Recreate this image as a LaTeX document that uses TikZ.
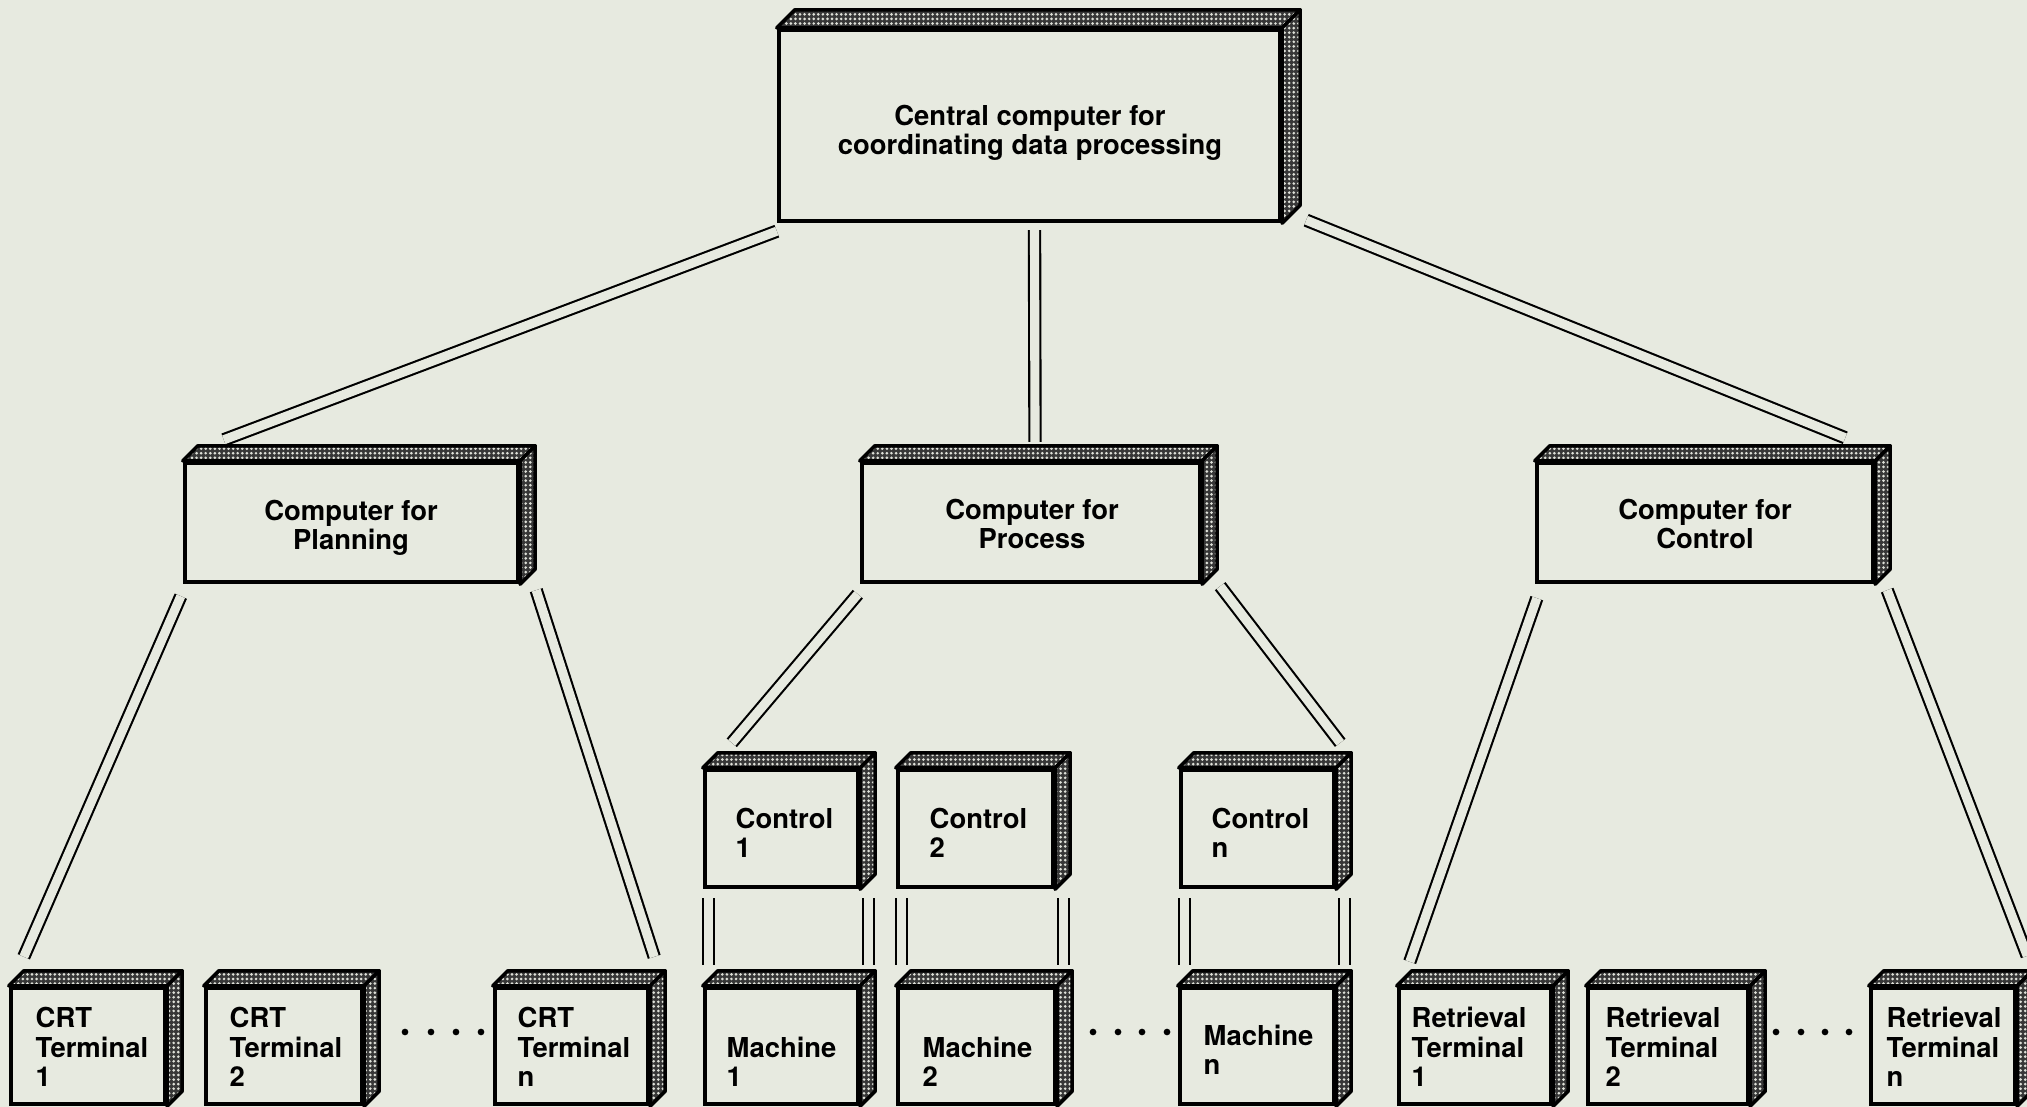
\documentclass[tikz,border=0pt]{standalone}
\usepackage{fontspec}
\setmainfont{TeX Gyre Heros}
\usetikzlibrary{calc,patterns.meta}
\definecolor{paper}{RGB}{231,234,224}
\definecolor{slabdark}{RGB}{55,55,55}
\definecolor{speck}{RGB}{222,224,216}

% front face of a 3-D slab, with dotted top and right faces
% #1 name, #2 x1, #3 y1, #4 x2, #5 y2, #6 depth
\newcommand\boxslab[6]{%
  \node[boxfront, minimum width={(#4-#2)*0.01cm}, minimum height={(#5-#3)*0.01cm}]
    (#1) at ({(#2+#4)/2},{(#3+#5)/2}) {};
  \foreach \fa/\fb in {north west/north east, north east/south east}{
    \fill[slabdark, postaction={boxspecks}]
      (#1.\fa) -- ++(#6,-#6) -- ($(#1.\fb)+(#6,-#6)$) -- (#1.\fb) -- cycle;
    \draw[boxrim]
      (#1.\fa) -- ++(#6,-#6) -- ($(#1.\fb)+(#6,-#6)$) -- (#1.\fb) -- cycle;
  }%
}

\begin{document}
\begin{tikzpicture}[x=0.01cm,y=-0.01cm,
  font=\fontsize{7.8}{8.4}\selectfont\bfseries,
  boxfront/.style={draw=black, line width=1.25pt, fill=paper, inner sep=0pt},
  boxrim/.style={draw=black, line width=1pt, line join=round},
  boxspecks/.style={pattern={Dots[distance=1.3pt, radius=0.42pt]}, pattern color=speck},
  wire/.style={draw=black, line width=0.6pt, double=paper, double distance=2.6pt},
  txt/.style={anchor=west, align=left, inner sep=0pt},
  ctxt/.style={align=center, inner sep=0pt},
  pip/.style={circle, fill=black, inner sep=0pt, minimum size=1.9pt}
]
\useasboundingbox (0,0) rectangle (2027,1107);
\fill[paper] (0,0) rectangle (2027,1107);

% ---- boxes ----
\boxslab{top}{779}{30}{1280}{221}{18}
\boxslab{plan}{185}{463}{518}{582}{15}
\boxslab{proc}{862}{463}{1200}{582}{15}
\boxslab{ctrl}{1537}{463}{1873}{582}{15}

\boxslab{c1}{705}{770}{858}{887}{15}
\boxslab{c2}{898}{770}{1053}{887}{15}
\boxslab{cn}{1181}{770}{1334}{887}{15}

\boxslab{m1}{705}{988}{858}{1104}{15}
\boxslab{m2}{898}{988}{1055}{1104}{15}
\boxslab{mn}{1180}{988}{1334}{1104}{15}

\boxslab{crt1}{11}{988}{165}{1104}{15}
\boxslab{crt2}{206}{988}{362}{1104}{15}
\boxslab{crtn}{495}{988}{648}{1104}{15}

\boxslab{r1}{1399}{988}{1551}{1104}{15}
\boxslab{r2}{1588}{988}{1748}{1104}{15}
\boxslab{rn}{1871}{988}{2015}{1104}{15}

% ---- double-line links between levels ----
\draw[wire] ($(top.south)+(5,7)$) -- ($(proc.north)+(4,-19)$);
\draw[wire] ($(top.south east)+(24,-3)$) -- ($(ctrl.north east)+(-30,-23)$);
\draw[wire] ($(top.south west)+(0,8)$) -- ($(plan.north west)+(41,-21)$);

\draw[wire] ($(plan.south west)+(-2,12)$) -- ($(crt1.north west)+(15,-29)$);
\draw[wire] ($(plan.south east)+(16,6)$) -- ($(crtn.north east)+(4,-29)$);

\draw[wire] ($(proc.south west)+(-2,10)$) -- ($(c1.north west)+(29,-25)$);
\draw[wire] ($(proc.south east)+(18,2)$) -- ($(cn.north east)+(4,-25)$);

\draw[wire] ($(ctrl.south west)+(2,14)$) -- ($(r1.north west)+(13,-24)$);
\draw[wire] ($(ctrl.south east)+(12,6)$) -- ($(rn.north east)+(10,-30)$);

\foreach \c/\m in {c1/m1, c2/m2, cn/mn}{
  \draw[wire] ($(\c.south west)+(6,9)$) -- ($(\c.south west |- \m.north west)+(6,-21)$);
  \draw[wire] ($(\c.south east)+(8,9)$) -- ($(\c.south east |- \m.north east)+(8,-21)$);
}

% ---- labels ----
\node[ctxt] (topt) at (1030,133) {Central computer for\\coordinating data processing};
\node[ctxt] (plant) at (351,528) {Computer for\\Planning};
\node[ctxt] (proct) at (1032,524) {Computer for\\Process};
\node[ctxt] (ctrlt) at (1705,524) {Computer for\\Control};

\node[txt] (c1t) at (735,833) {Control\\1};
\node[txt] (c2t) at (929,833) {Control\\2};
\node[txt] (cnt) at (1211,833) {Control\\n};

\node[txt] (m1t) at (726,1062) {Machine\\1};
\node[txt] (m2t) at (922,1062) {Machine\\2};
\node[txt] (mnt) at (1203,1050) {Machine\\n};

\node[txt] (crt1t) at (35,1047) {CRT\\Terminal\\1};
\node[txt] (crt2t) at (229,1047) {CRT\\Terminal\\2};
\node[txt] (crtnt) at (517,1047) {CRT\\Terminal\\n};

\node[txt] (r1t) at (1411,1047) {Retrieval\\Terminal\\1};
\node[txt] (r2t) at (1605,1047) {Retrieval\\Terminal\\2};
\node[txt] (rnt) at (1886,1047) {Retrieval\\Terminal\\n};

% ---- ellipsis dots ----
\foreach \x [count=\i] in {405,431,456,481}{\node[pip] (dc\i) at (\x,1032) {};}
\foreach \x [count=\i] in {1093,1118,1142,1167}{\node[pip] (dm\i) at (\x,1032) {};}
\foreach \x [count=\i] in {1776,1801,1825,1849}{\node[pip] (dr\i) at (\x,1032) {};}
\end{tikzpicture}
\end{document}
